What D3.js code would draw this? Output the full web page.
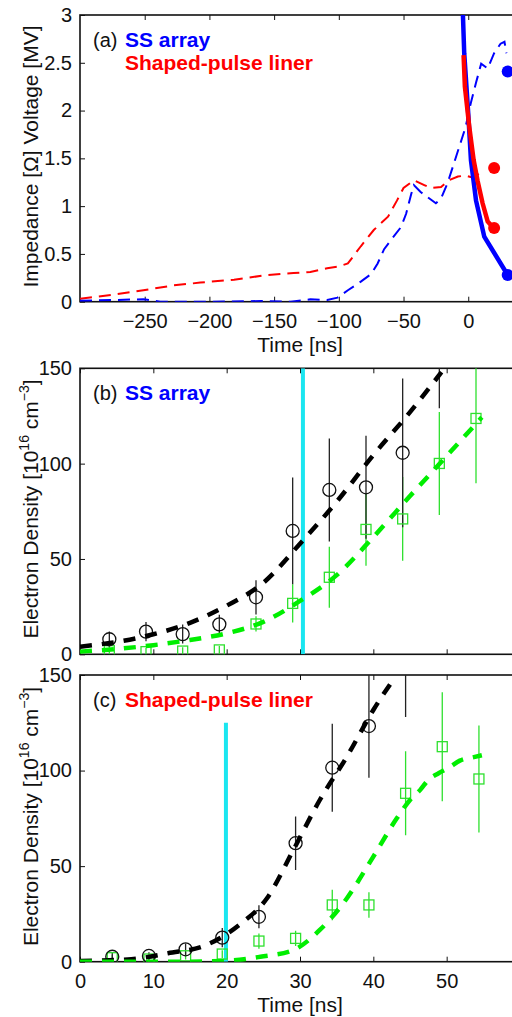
<!DOCTYPE html>
<html>
<meta charset="utf-8">
<head>
<style>
  body { margin: 0; background: #fff; }
  svg text { font-family: "Liberation Sans", Arial, Helvetica, sans-serif; }
  .tick text { font-size: 20px; fill: #111; }
  .tick line { stroke: #111; stroke-width: 1; }
</style>
</head>
<script src="https://d3js.org/d3.v7.min.js"></script>
<body>
<svg id="chart" width="512" height="1017"></svg>
<script>

// ---- panel (a) data ----
var aTicksX = [-250, -200, -150, -100, -50, 0];
var aTicksY = [0, 0.5, 1, 1.5, 2, 2.5, 3];

var ssVoltT = [-300,-251,-238,-197,-160,-137,-122,-109,-101,-93,-83,-75,-70,-65,-60,-52,-48,-44,-42,-37,-30,-25,-21,-16,-11,-6,-2,2,6,10,15,20,25,28,29.5];
var ssVoltV = [0.01,0.025,0,0,0.007,0,0.025,0.018,0.042,0.12,0.21,0.29,0.40,0.55,0.64,0.78,0.92,1.13,1.22,1.15,1.08,1.03,1.08,1.24,1.45,1.66,1.83,2.08,2.29,2.49,2.44,2.60,2.70,2.72,2.60];
var spVoltT = [-300,-276,-251,-228,-207,-181,-155,-135,-122,-109,-100,-93,-83,-73,-62,-55,-50,-42,-34,-29,-21,-15,-8,-2,3,9,12];
var spVoltV = [0.03,0.07,0.12,0.17,0.20,0.23,0.28,0.30,0.31,0.35,0.37,0.40,0.58,0.75,0.89,1.06,1.19,1.27,1.22,1.19,1.20,1.27,1.31,1.32,1.30,1.34,1.38];
var ssImpT = [-4.6,-3.1,0,2.1,6.0,12.4,20.1,30];
var ssImpV = [3.2,2.6,1.97,1.48,1.06,0.68,0.51,0.29];
var spImpT = [-3.6,-2.6,0.8,4.2,7.3,11.1,15.0,19.7];
var spImpV = [2.58,2.25,1.83,1.48,1.26,1.03,0.84,0.77];
var ssDotT = [30.5, 30.5], ssDotV = [2.41, 0.28];
var spDotT = [20, 20], spDotV = [1.40, 0.77];

// ---- panel (b) data : SS array ----
var bCircT = [4,9,14,19,24,29,34,39,44,49];
var bCircN = [7.9,11.9,10.6,15.7,29.9,64.7,86.2,87.6,105.7,175];
var bCircE = [4,5,5,5,9,28,27,27,39,46];
var bSqT = [4,9,14,19,24,29,34,39,44,49,54];
var bSqN = [1.9,1.4,1.7,2.3,15.9,26.7,40.4,65.5,71,100.1,123.7];
var bSqE = [2,2,2,2,4,10,16,19,22,27,34];
var bFitBlackT = [0,5,10,15,20,25,30,35,40,45,49.3];
var bFitBlackN = [4,6.5,10.5,16.5,25.5,37.5,58,80,104.5,127,148];
var bFitGreenT = [0,5,10,15,20,25,30,35,40,45,50,54.8];
var bFitGreenN = [1.4,2.8,4.8,7.5,11,17,28,41.5,61.5,83,104,124.3];
var bCyanT = 30.4, bCyanTop = 150;

// ---- panel (c) data : shaped-pulse liner ----
var cCircT = [4.4,9.4,14.4,19.4,24.4,29.4,34.4,39.4,44.4];
var cCircN = [2.6,3.0,6.5,12.6,23.5,62.0,101.5,123.3,158];
var cCircE = [2,2,3,5,6,14,23,27,30];
var cSqT = [4.4,9.4,14.4,19.4,24.4,29.4,34.4,39.4,44.4,49.4,54.4];
var cSqN = [2.1,1.4,3.1,4.0,10.8,12.2,29.7,29.7,88.1,112.5,95.6];
var cSqE = [1.5,1.5,2,2,4,4,8,6.7,22,28.5,28];
var cFitBlackT = [0,4,7,12,17.2,21.7,25.5,29.1,32.7,36.4,40,43];
var cFitBlackN = [0.3,0.8,1.3,4.4,8.7,19.2,33.2,58.5,84.6,107.3,131.7,149.1];
var cFitGreenT = [0,5,10,15,20.9,24.6,29.1,32.7,36.4,40,43.2,45,46.4,47.5,48.9,50.4,51.8,53.7,54.8];
var cFitGreenN = [0,0,0,0,0.7,2.6,6.1,16.6,33.2,55,75,84.6,89.9,95.1,98.6,101.7,105.2,107,108];
var cCyanT = 19.9, cCyanTop = 125;

var bcTicksX = [0, 10, 20, 30, 40, 50];
var bcTicksY = [0, 50, 100, 150];

var svg = d3.select("#chart");
var left = 80, right = 520;

var blue = "#0000ff", red = "#ff0000", cyan = "#1ae6f0",
    green = "#00ee00", greenLite = "#2ee02e", dark = "#111";

function zip(a, b) { return a.map(function(d, i) { return [d, b[i]]; }); }

// draw the frame, inward ticks and labels for one panel
function frame(id, x, y, xt, yt, xLabels, yFmt) {
  var g = svg.append("g");
  var top = y.range()[1], bot = y.range()[0];

  svg.append("clipPath").attr("id", id)
    .append("rect").attr("x", left).attr("y", top)
    .attr("width", right - left).attr("height", bot - top);

  var bx = d3.axisBottom(x).tickValues(xt).tickSizeInner(-5).tickSizeOuter(0).tickPadding(12)
    .tickFormat(xLabels ? null : function() { return ""; });
  g.append("g").attr("transform", "translate(0," + bot + ")").call(bx);
  g.append("g").attr("transform", "translate(0," + top + ")")
    .call(d3.axisTop(x).tickValues(xt).tickSizeInner(-5).tickSizeOuter(0).tickFormat(function() { return ""; }));
  g.append("g").attr("transform", "translate(" + left + ",0)")
    .call(d3.axisLeft(y).tickValues(yt).tickSizeInner(-5).tickSizeOuter(0).tickPadding(8).tickFormat(yFmt));
  g.append("g").attr("transform", "translate(" + right + ",0)")
    .call(d3.axisRight(y).tickValues(yt).tickSizeInner(-5).tickSizeOuter(0).tickFormat(function() { return ""; }));
  g.selectAll(".domain").remove();
  g.selectAll(".tick text").attr("fill", dark).style("font-size", "20px");

  g.append("rect").attr("x", left).attr("y", top)
    .attr("width", right - left).attr("height", bot - top)
    .attr("fill", "none").attr("stroke", dark).attr("stroke-width", 1.6);
  return svg.append("g").attr("clip-path", "url(#" + id + ")");
}

function yLabel(cy, sup) {
  var t = svg.append("text")
    .attr("transform", "translate(38," + cy + ") rotate(-90)")
    .attr("text-anchor", "middle").style("font-size", "21px").attr("fill", dark);
  if (!sup) { t.text("Impedance [\u03A9] Voltage [MV]"); return; }
  t.append("tspan").text("Electron Density [10");
  t.append("tspan").attr("dy", -9).style("font-size", "14px").text("16");
  t.append("tspan").attr("dy", 9).text(" cm");
  t.append("tspan").attr("dy", -9).style("font-size", "14px").text("\u22123");
  t.append("tspan").attr("dy", 9).text("]");
}

function xLabel(cy) {
  svg.append("text").attr("x", 300).attr("y", cy)
    .attr("text-anchor", "middle").style("font-size", "21px").attr("fill", dark)
    .text("Time [ns]");
}

function tag(y, letter, name, color) {
  var t = svg.append("text").attr("x", 93).attr("y", y).attr("fill", dark);
  t.append("tspan").style("font-size", "20px").text("(" + letter + ") ");
  t.append("tspan").attr("x", 125).attr("fill", color)
    .style("font-size", "21px").style("font-weight", "bold").text(name);
}

// ================= panel (a) =================
var xA = d3.scaleLinear().domain([-300, 40]).range([left, right]);
var yA = d3.scaleLinear().domain([0, 3]).range([301.7, 15]);
var gA = frame("clipA", xA, yA, aTicksX, aTicksY, true, function(d) { return String(d); });

var lineA = d3.line().x(function(d) { return xA(d[0]); }).y(function(d) { return yA(d[1]); });

gA.append("path").datum(zip(spVoltT, spVoltV)).attr("d", lineA)
  .attr("fill", "none").attr("stroke", red).attr("stroke-width", 2).attr("stroke-dasharray", "12,7");
gA.append("path").datum(zip(ssVoltT, ssVoltV)).attr("d", lineA)
  .attr("fill", "none").attr("stroke", blue).attr("stroke-width", 2).attr("stroke-dasharray", "12,7");
gA.append("path").datum(zip(ssImpT, ssImpV)).attr("d", lineA)
  .attr("fill", "none").attr("stroke", blue).attr("stroke-width", 4.5);
gA.append("path").datum(zip(spImpT, spImpV)).attr("d", lineA)
  .attr("fill", "none").attr("stroke", red).attr("stroke-width", 4.5);

svg.append("g").selectAll("circle").data(zip(ssDotT, ssDotV)).enter().append("circle")
  .attr("cx", function(d) { return xA(d[0]); }).attr("cy", function(d) { return yA(d[1]); })
  .attr("r", 6).attr("fill", blue);
svg.append("g").selectAll("circle").data(zip(spDotT, spDotV)).enter().append("circle")
  .attr("cx", function(d) { return xA(d[0]); }).attr("cy", function(d) { return yA(d[1]); })
  .attr("r", 6).attr("fill", red);

tag(47, "a", "SS array", blue);
svg.append("text").attr("x", 125).attr("y", 70).attr("fill", red)
  .style("font-size", "21px").style("font-weight", "bold").text("Shaped-pulse liner");
yLabel(156.5, false);
xLabel(352);

// ================= panels (b) and (c) =================
var xB = d3.scaleLinear().domain([0, 60]).range([left, right]);

function densityPanel(id, y, showX, circT, circN, circE, sqT, sqN, sqE, fbT, fbN, fgT, fgN, cyT, cyTop) {
  var g = frame(id, xB, y, bcTicksX, bcTicksY, showX, function(d) { return String(d); });
  var line = d3.line().curve(d3.curveMonotoneX)
    .x(function(d) { return xB(d[0]); }).y(function(d) { return y(d[1]); });

  g.append("line").attr("x1", xB(cyT)).attr("x2", xB(cyT))
    .attr("y1", y(0)).attr("y2", y(cyTop))
    .attr("stroke", cyan).attr("stroke-width", 4);

  // error bars
  g.append("g").selectAll("line").data(sqT.map(function(t, i) { return [t, sqN[i], sqE[i]]; }))
    .enter().append("line")
    .attr("x1", function(d) { return xB(d[0]); }).attr("x2", function(d) { return xB(d[0]); })
    .attr("y1", function(d) { return y(d[1] - d[2]); }).attr("y2", function(d) { return y(d[1] + d[2]); })
    .attr("stroke", greenLite).attr("stroke-width", 1.3);
  g.append("g").selectAll("line").data(circT.map(function(t, i) { return [t, circN[i], circE[i]]; }))
    .enter().append("line")
    .attr("x1", function(d) { return xB(d[0]); }).attr("x2", function(d) { return xB(d[0]); })
    .attr("y1", function(d) { return y(d[1] - d[2]); }).attr("y2", function(d) { return y(d[1] + d[2]); })
    .attr("stroke", "#222").attr("stroke-width", 1.3);

  // markers
  g.append("g").selectAll("rect").data(zip(sqT, sqN)).enter().append("rect")
    .attr("x", function(d) { return xB(d[0]) - 5; }).attr("y", function(d) { return y(d[1]) - 5; })
    .attr("width", 10).attr("height", 10)
    .attr("fill", "none").attr("stroke", greenLite).attr("stroke-width", 1.3);
  g.append("g").selectAll("circle").data(zip(circT, circN)).enter().append("circle")
    .attr("cx", function(d) { return xB(d[0]); }).attr("cy", function(d) { return y(d[1]); })
    .attr("r", 6.5).attr("fill", "none").attr("stroke", dark).attr("stroke-width", 1.3);

  // fits
  g.append("path").datum(zip(fbT, fbN)).attr("d", line)
    .attr("fill", "none").attr("stroke", "#000").attr("stroke-width", 4.5).attr("stroke-dasharray", "12,10");
  g.append("path").datum(zip(fgT, fgN)).attr("d", line)
    .attr("fill", "none").attr("stroke", green).attr("stroke-width", 4.5).attr("stroke-dasharray", "12,10");
}

var yB = d3.scaleLinear().domain([0, 150]).range([654.3, 368.3]);
densityPanel("clipB", yB, false, bCircT, bCircN, bCircE, bSqT, bSqN, bSqE,
  bFitBlackT, bFitBlackN, bFitGreenT, bFitGreenN, bCyanT, bCyanTop);
tag(400, "b", "SS array", blue);
yLabel(509, true);

var yC = d3.scaleLinear().domain([0, 150]).range([961.7, 675]);
densityPanel("clipC", yC, true, cCircT, cCircN, cCircE, cSqT, cSqN, cSqE,
  cFitBlackT, cFitBlackN, cFitGreenT, cFitGreenN, cCyanT, cCyanTop);
tag(707, "c", "Shaped-pulse liner", red);
yLabel(816.5, true);
xLabel(1012);

</script>
</body>
</html>
